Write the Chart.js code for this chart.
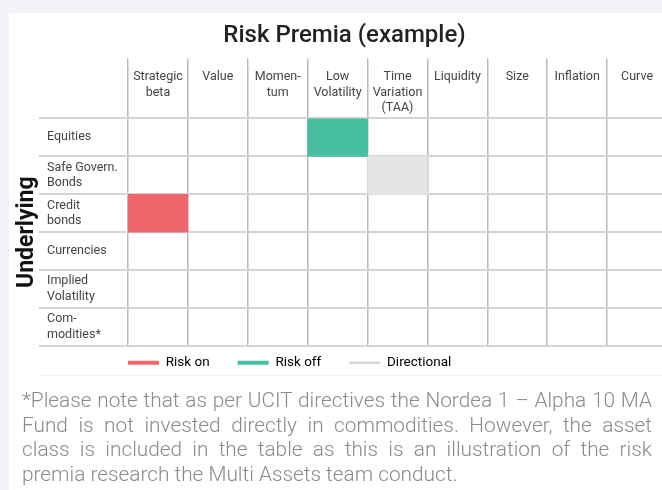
<!DOCTYPE html>
<html>
<head>
<meta charset="utf-8">
<script src="https://cdn.jsdelivr.net/npm/chart.js@4/dist/chart.umd.min.js"></script>
<style>
    html, body { margin: 0; padding: 0; overflow: hidden; }
    body { width: 662px; height: 490px; background: #f2f3f8; position: relative; font-family: Roboto, sans-serif; }
    .card { position: absolute; left: 9px; top: 13px; right: 0; bottom: 0; background: #fff; }
    .rule { position: absolute; left: 40px; right: 0; top: 375px; height: 1px; background: #f3f3f3; }
    #chart { position: absolute; left: 0; top: 0; }
    .note {
        position: absolute; left: 22px; top: 388px; width: 630px;
        font-size: 20.8px; line-height: 24.5px; font-weight: 300;
        color: #8a8a8a; text-align: justify;
    }
</style>
</head>
<body>
<div class="card"></div>
<div class="rule"></div>
<canvas id="chart" width="670" height="400"></canvas>
<div class="note">*Please note that as per UCIT directives the Nordea 1 &ndash; Alpha 10 MA Fund is not invested directly in commodities. However, the asset class is included in the table as this is an illustration of the risk premia research the Multi Assets team conduct.</div>

<script>
// Columns (risk premia) and rows (underlying asset classes)
const columns = [['Strategic', 'beta'], 'Value', ['Momen-', 'tum'], ['Low', 'Volatility'],
    ['Time', 'Variation', '(TAA)'], 'Liquidity', 'Size', 'Inflation', 'Curve'];
const rows = ['Equities', ['Safe Govern.', 'Bonds'], ['Credit', 'bonds'], 'Currencies',
    ['Implied', 'Volatility'], ['Com-', 'modities*']];

// Marked cells per signal: [row index, column index]
const riskOn = [[2, 0]];
const riskOff = [[0, 3]];
const directional = [[1, 4]];

const seriesNames = ['Risk on', 'Risk off', 'Directional'];
const fillColors = ['#f0666c', '#46bea0', '#e4e5e7'];
const keyColors = ['#f0666c', '#46bea0', '#d2d2d2'];
const keyWidths = [4, 4, 2];

Chart.defaults.font.family = 'Roboto, sans-serif';

// one value per row: a floating bar over the marked column, null elsewhere
function toCells(list) {
    const data = rows.map(() => null);
    list.forEach(([r, c]) => { data[r] = [c, c + 1]; });
    return data;
}

// put the key right under the grid, starting at its left edge
const legendUnderGrid = {
    id: 'legendUnderGrid',
    afterLayout(chart) {
        const lg = chart.legend;
        const pad = lg.options.labels.padding;
        const dx = chart.chartArea.left - pad - lg.left;
        const dy = chart.chartArea.bottom + 10 - pad - lg.top;
        lg.left += dx; lg.right += dx;
        lg.top += dy; lg.bottom += dy;
    }
};

const gridFont = { size: 12.5, lineHeight: 1.25 };

new Chart(document.getElementById('chart'), {
    type: 'bar',
    data: {
        labels: rows,
        datasets: [riskOn, riskOff, directional].map((list, i) => ({
            label: seriesNames[i],
            data: toCells(list),
            backgroundColor: fillColors[i],
            borderWidth: 0,
            xAxisID: 'xv',
            yAxisID: 'y'
        }))
    },
    options: {
        responsive: false,
        animation: false,
        indexAxis: 'y',
        layout: { padding: { left: 22, right: 3, top: 0, bottom: 2.5 } },
        datasets: { bar: { grouped: false, barPercentage: 1, categoryPercentage: 1 } },
        scales: {
            x: {
                type: 'category',
                position: 'top',
                labels: columns,
                offset: true,
                z: 1,
                grid: { offset: true, tickLength: 60, color: '#b9b9b9', lineWidth: 1.5 },
                border: { display: false },
                ticks: { crossAlign: 'far', padding: -57.6, font: gridFont, color: '#444',
                    maxRotation: 0, autoSkip: false },
                afterFit: s => { s.height = 60; }
            },
            xv: { type: 'linear', axis: 'x', min: 0, max: columns.length, display: false },
            y: {
                type: 'category',
                position: 'left',
                labels: rows,
                offset: true,
                z: 1,
                grid: { offset: true, tickLength: 89, color: '#d4d4d4', lineWidth: 2 },
                border: { display: false },
                ticks: { crossAlign: 'far', font: gridFont, color: '#444', autoSkip: false },
                afterFit: s => { s.width = 81; }
            },
            yt: {
                type: 'category',
                axis: 'y',
                position: 'left',
                weight: 1,
                labels: rows,
                grid: { display: false },
                border: { display: false },
                ticks: { display: false },
                title: { display: true, text: 'Underlying', color: '#111',
                    font: { size: 23, weight: 'bold' }, padding: { top: -9, bottom: 0 } },
                afterFit: s => { s.width = 25; }
            }
        },
        plugins: {
            title: {
                display: true,
                text: 'Risk Premia (example)',
                color: '#222',
                font: { size: 24, weight: 500 },
                padding: { top: 22, bottom: 7.6 }
            },
            legend: {
                position: 'bottom',
                align: 'start',
                fullSize: false,
                labels: {
                    usePointStyle: true,
                    pointStyleWidth: 31,
                    padding: 28,
                    color: '#333',
                    font: { size: 13.5 },
                    generateLabels: chart => chart.data.datasets.map((ds, i) => ({
                        text: ds.label,
                        fillStyle: keyColors[i],
                        strokeStyle: keyColors[i],
                        lineWidth: keyWidths[i],
                        pointStyle: 'line',
                        hidden: false,
                        datasetIndex: i
                    }))
                }
            },
            tooltip: { enabled: false }
        }
    },
    plugins: [legendUnderGrid]
});
</script>
</body>
</html>
